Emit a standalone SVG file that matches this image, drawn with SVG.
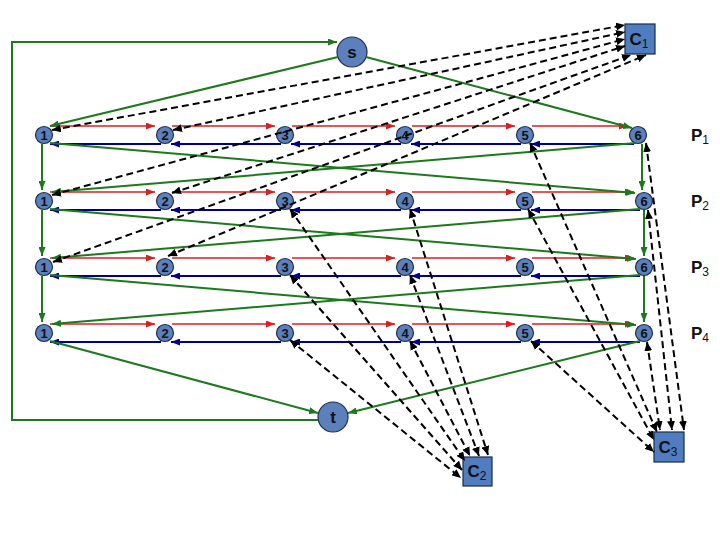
<svg xmlns="http://www.w3.org/2000/svg" width="720" height="540" viewBox="0 0 720 540">
<style>
.n circle{fill:#5b80bb;stroke:#1f2d4d;stroke-width:1.2}
.n text{font-family:"Liberation Sans",Arial,sans-serif;font-weight:bold;font-size:13px;fill:#111;text-anchor:middle}
.big circle{fill:#5b80bb;stroke:#1f2d4d;stroke-width:1.2}
.big text,.cb text{font-family:"Liberation Sans",Arial,sans-serif;font-weight:bold;font-size:17px;fill:#111;text-anchor:middle}
.cb rect{fill:#4f7dc0;stroke:#1a2a4a;stroke-width:1.2}
.lab{font-family:"Liberation Sans",Arial,sans-serif;font-weight:bold;font-size:17px;fill:#111}
.sub{font-size:12px;font-weight:normal}
.r{stroke:#d42222;stroke-width:1.5;fill:none;marker-end:url(#mr)}
.b{stroke:#00008b;stroke-width:2;fill:none;marker-end:url(#mb)}
.g{stroke:#1c7a1c;stroke-width:2;fill:none;marker-end:url(#mg)}
.d{stroke:#000;stroke-width:2;stroke-dasharray:7,4;fill:none;marker-start:url(#mk);marker-end:url(#mk)}
</style>
<defs>
<marker id="mr" markerUnits="userSpaceOnUse" markerWidth="9" markerHeight="7" refX="9" refY="3.5" orient="auto"><path d="M0,0 L9,3.5 L0,7 z" fill="#d42222"/></marker>
<marker id="mb" markerUnits="userSpaceOnUse" markerWidth="9" markerHeight="7" refX="9" refY="3.5" orient="auto"><path d="M0,0 L9,3.5 L0,7 z" fill="#00008b"/></marker>
<marker id="mg" markerUnits="userSpaceOnUse" markerWidth="9" markerHeight="7" refX="9" refY="3.5" orient="auto"><path d="M0,0 L9,3.5 L0,7 z" fill="#1c7a1c"/></marker>
<marker id="mk" markerUnits="userSpaceOnUse" markerWidth="9" markerHeight="8" refX="9" refY="4" orient="auto-start-reverse"><path d="M0,0 L9,4 L0,8 z" fill="#000"/></marker>
</defs>

<g id="nodes">
<g id="n1_1" class="n"><circle cx="44" cy="135" r="8.5"/><text x="44" y="140">1</text></g>
<g id="n1_2" class="n"><circle cx="165" cy="135" r="8.5"/><text x="165" y="140">2</text></g>
<g id="n1_3" class="n"><circle cx="285" cy="135" r="8.5"/><text x="285" y="140">3</text></g>
<g id="n1_4" class="n"><circle cx="405" cy="135" r="8.5"/><text x="405" y="140">4</text></g>
<g id="n1_5" class="n"><circle cx="525" cy="135" r="8.5"/><text x="525" y="140">5</text></g>
<g id="n1_6" class="n"><circle cx="638" cy="135" r="8.5"/><text x="638" y="140">6</text></g>

<g id="n2_1" class="n"><circle cx="44" cy="201" r="8.5"/><text x="44" y="206">1</text></g>
<g id="n2_2" class="n"><circle cx="165" cy="201" r="8.5"/><text x="165" y="206">2</text></g>
<g id="n2_3" class="n"><circle cx="285" cy="201" r="8.5"/><text x="285" y="206">3</text></g>
<g id="n2_4" class="n"><circle cx="405" cy="201" r="8.5"/><text x="405" y="206">4</text></g>
<g id="n2_5" class="n"><circle cx="525" cy="201" r="8.5"/><text x="525" y="206">5</text></g>
<g id="n2_6" class="n"><circle cx="644" cy="201" r="8.5"/><text x="644" y="206">6</text></g>

<g id="n3_1" class="n"><circle cx="44" cy="267" r="8.5"/><text x="44" y="272">1</text></g>
<g id="n3_2" class="n"><circle cx="165" cy="267" r="8.5"/><text x="165" y="272">2</text></g>
<g id="n3_3" class="n"><circle cx="285" cy="267" r="8.5"/><text x="285" y="272">3</text></g>
<g id="n3_4" class="n"><circle cx="405" cy="267" r="8.5"/><text x="405" y="272">4</text></g>
<g id="n3_5" class="n"><circle cx="525" cy="267" r="8.5"/><text x="525" y="272">5</text></g>
<g id="n3_6" class="n"><circle cx="644" cy="267" r="8.5"/><text x="644" y="272">6</text></g>

<g id="n4_1" class="n"><circle cx="44" cy="333" r="8.5"/><text x="44" y="338">1</text></g>
<g id="n4_2" class="n"><circle cx="165" cy="333" r="8.5"/><text x="165" y="338">2</text></g>
<g id="n4_3" class="n"><circle cx="285" cy="333" r="8.5"/><text x="285" y="338">3</text></g>
<g id="n4_4" class="n"><circle cx="405" cy="333" r="8.5"/><text x="405" y="338">4</text></g>
<g id="n4_5" class="n"><circle cx="525" cy="333" r="8.5"/><text x="525" y="338">5</text></g>
<g id="n4_6" class="n"><circle cx="644" cy="333" r="8.5"/><text x="644" y="338">6</text></g>

<g id="s" class="big"><circle cx="352" cy="52" r="15"/><text x="352" y="58">s</text></g>
<g id="t" class="big"><circle cx="333" cy="417" r="15"/><text x="333" y="423">t</text></g>

<g id="C1" class="cb"><rect x="625" y="24" width="30" height="30"/><text x="639" y="45">C<tspan class="sub" dy="3">1</tspan></text></g>
<g id="C2" class="cb"><rect x="463" y="457" width="29" height="29"/><text x="477" y="477">C<tspan class="sub" dy="3">2</tspan></text></g>
<g id="C3" class="cb"><rect x="654" y="432" width="30" height="30"/><text x="668" y="453">C<tspan class="sub" dy="3">3</tspan></text></g>
</g>

<text class="lab" x="691" y="141">P<tspan class="sub" dy="3">1</tspan></text>
<text class="lab" x="691" y="207">P<tspan class="sub" dy="3">2</tspan></text>
<text class="lab" x="691" y="273">P<tspan class="sub" dy="3">3</tspan></text>
<text class="lab" x="691" y="339">P<tspan class="sub" dy="3">4</tspan></text>

<g id="connectors">
<path class="r" d="M50,126 H155"/><path class="r" d="M172,126 H275"/><path class="r" d="M292,126 H395"/><path class="r" d="M412,126 H515"/><path class="r" d="M532,126 H628"/>
<path class="r" d="M50,192 H155"/><path class="r" d="M172,192 H275"/><path class="r" d="M292,192 H395"/><path class="r" d="M412,192 H515"/><path class="r" d="M532,192 H634"/>
<path class="r" d="M50,258 H155"/><path class="r" d="M172,258 H275"/><path class="r" d="M292,258 H395"/><path class="r" d="M412,258 H515"/><path class="r" d="M532,258 H634"/>
<path class="r" d="M50,324 H155"/><path class="r" d="M172,324 H275"/><path class="r" d="M292,324 H395"/><path class="r" d="M412,324 H515"/><path class="r" d="M532,324 H634"/>
<path class="b" d="M161,144 H50"/><path class="b" d="M281,144 H171"/><path class="b" d="M401,144 H291"/><path class="b" d="M521,144 H411"/><path class="b" d="M634,144 H531"/>
<path class="b" d="M161,210 H50"/><path class="b" d="M281,210 H171"/><path class="b" d="M401,210 H291"/><path class="b" d="M521,210 H411"/><path class="b" d="M640,210 H531"/>
<path class="b" d="M161,276 H50"/><path class="b" d="M281,276 H171"/><path class="b" d="M401,276 H291"/><path class="b" d="M521,276 H411"/><path class="b" d="M640,276 H531"/>
<path class="b" d="M161,342 H50"/><path class="b" d="M281,342 H171"/><path class="b" d="M401,342 H291"/><path class="b" d="M521,342 H411"/><path class="b" d="M640,342 H531"/>
<path class="g" d="M338,57 L50,126"/>
<path class="g" d="M366,57 L632,128"/>
<path class="g" d="M318,420 H12 V42 H337"/>
<path class="g" d="M42,144 V190"/><path class="g" d="M42,210 V256"/><path class="g" d="M42,276 V322"/>
<path class="g" d="M642,144 V190"/><path class="g" d="M644,210 V256"/><path class="g" d="M644,276 V322"/>
<path class="g" d="M50,143 L635,193"/><path class="g" d="M636,143 L52,192"/>
<path class="g" d="M50,209 L636,259"/><path class="g" d="M640,209 L52,258"/>
<path class="g" d="M50,275 L636,325"/><path class="g" d="M640,275 L52,324"/>
<path class="g" d="M50,341 L318,413"/>
<path class="g" d="M640,341 L348,413"/>
<path class="d" d="M52,130 L625,25"/>
<path class="d" d="M173,130 L625,32"/>
<path class="d" d="M52,195 L625,39"/>
<path class="d" d="M172,193 L625,46"/>
<path class="d" d="M53,262 L631,55"/>
<path class="d" d="M168,256 L646,55"/>
<path class="d" d="M290,209 L465,461"/>
<path class="d" d="M290,275 L462,470"/>
<path class="d" d="M290,340 L461,478"/>
<path class="d" d="M410,209 L488,455"/>
<path class="d" d="M410,275 L479,456"/>
<path class="d" d="M410,341 L470,456"/>
<path class="d" d="M530,143 L657,432"/>
<path class="d" d="M528,209 L654,440"/>
<path class="d" d="M531,341 L654,452"/>
<path class="d" d="M646,143 L684,430"/>
<path class="d" d="M648,210 L672,430"/>
<path class="d" d="M647,342 L660,430"/>
</g>
</svg>
